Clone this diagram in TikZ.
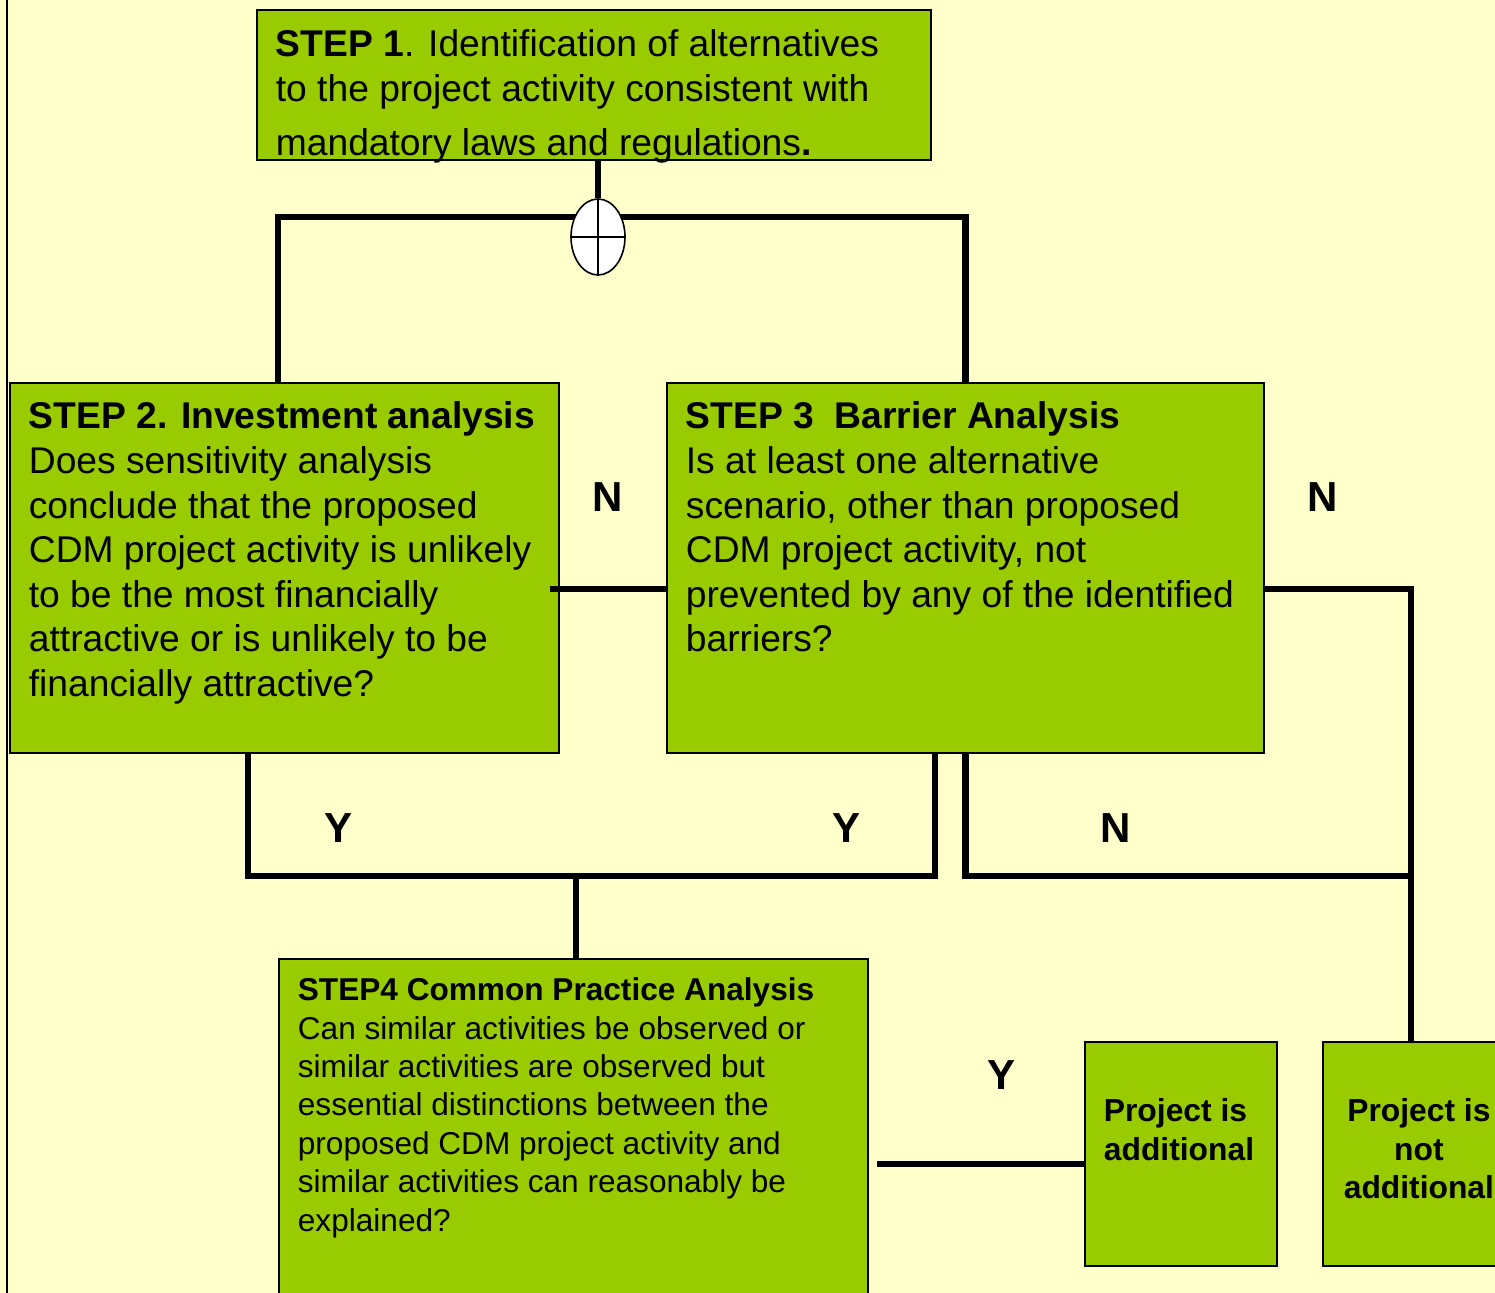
\documentclass[tikz,border=0pt]{standalone}
\usepackage{fontspec}
\setmainfont{Liberation Sans}
\usetikzlibrary{shapes.geometric}
\definecolor{stepgreen}{HTML}{99CC00}
\definecolor{pageyellow}{HTML}{FFFFCC}

\newcommand{\boxtext}[3]{\parbox[t][#2][t]{#1}{\raggedright #3}}

\begin{document}
\begin{tikzpicture}
    [
    x=0.5pt, y=-0.5pt,
    box/.style={draw, line width=0.9pt, fill=stepgreen, anchor=north west, inner xsep=9.5pt, inner ysep=9.5pt},
    conn/.style={line width=3.2pt},
    yn/.style={font=\fontsize{21}{24}\selectfont\bfseries, inner sep=0pt},
    big/.style={font=\fontsize{18.6}{22.3}\selectfont},
    small/.style={font=\fontsize{15.8}{19.2}\selectfont},
    result/.style={font=\fontsize{15.9}{19.3}\selectfont\bfseries, inner ysep=28.3pt},
    ]
    \useasboundingbox (0,0) rectangle (1495,1293);
    \clip (0,0) rectangle (1495,1293);
    \fill[pageyellow] (0,0) rectangle (1495,1293);
    \draw[line width=1pt] (7,0) -- (7,1293);

    \node (s1) at (256,9) [box, big, inner ysep=10pt] {\boxtext{318pt}{55pt}{\textbf{STEP 1}. Identification of alternatives\\ to the project activity consistent with\\[4.5pt] mandatory laws and regulations\textbf{.}}};
    \node (s2) at (9,382) [box, big] {\boxtext{255.5pt}{166pt}{\textbf{STEP 2. Investment analysis}\\ Does sensitivity analysis\\ conclude that the proposed\\ CDM project activity is unlikely\\ to be the most financially\\ attractive or is unlikely to be\\ financially attractive?}};
    \node (s3) at (666,382) [box, big] {\boxtext{279.5pt}{166pt}{\textbf{STEP 3\ \ Barrier Analysis}\\ Is at least one alternative\\ scenario, other than proposed\\ CDM project activity, not\\ prevented by any of the identified\\ barriers?}};
    \node (s4) at (278,958) [box, small] {\boxtext{275.5pt}{186pt}{\textbf{STEP4 Common Practice Analysis}\\ Can similar activities be observed or\\ similar activities are observed but\\ essential distinctions between the\\ proposed CDM project activity and\\ similar activities can reasonably be\\ explained?}};
    \node (add) at (1084,1041) [box, result] {\boxtext{77pt}{55.4pt}{Project is\\ additional}};
    \node (na) at (1322,1041) [box, result] {\boxtext{77pt}{55.4pt}{\centering Project is\\ not\\ additional}};

    % or-junction under step 1
    \coordinate (bar) at (598,217);
    \draw[conn] ([xshift=-3.25pt]s2.north) |- (bar) -| (s3.north);
    \node (or) at (598,237) [draw, fill=white, ellipse, line width=0.8pt, minimum width=27pt, minimum height=38pt, inner sep=0pt] {};
    \draw[line width=0.8pt] (or.north) -- (or.south) (or.west) -- (or.east);
    \draw[conn] (s1.south -| or) -- (or.north);

    % answers of step 2 and step 3
    \coordinate (yj) at (576,876);
    \coordinate (nj) at (1411,876);
    \draw[conn] ([xshift=-5pt,yshift=-10.5pt]s2.east) -- ([yshift=-10.5pt]s3.west);
    \draw[conn] ([yshift=-10.5pt]s3.east) -| (na.north -| nj);
    \draw[conn] ([xshift=-18.25pt]s2.south) |- ([xshift=-15.25pt]s3.south |- yj) -- ([xshift=-15.25pt]s3.south);
    \draw[conn] (yj) -- (yj |- s4.north);
    \draw[conn] (s3.south) |- (nj);
    \draw[conn] ([xshift=4pt]s4.east) -- (add.west |- s4.east);

    \node (n1) at (608,497) [yn] {N};
    \node (n2) at (1323,497) [yn] {N};
    \node (y1) at (339,828) [yn] {Y};
    \node (y2) at (846,828) [yn] {Y};
    \node (n3) at (1116,828) [yn] {N};
    \node (y3) at (1001,1075) [yn] {Y};
\end{tikzpicture}
\end{document}
